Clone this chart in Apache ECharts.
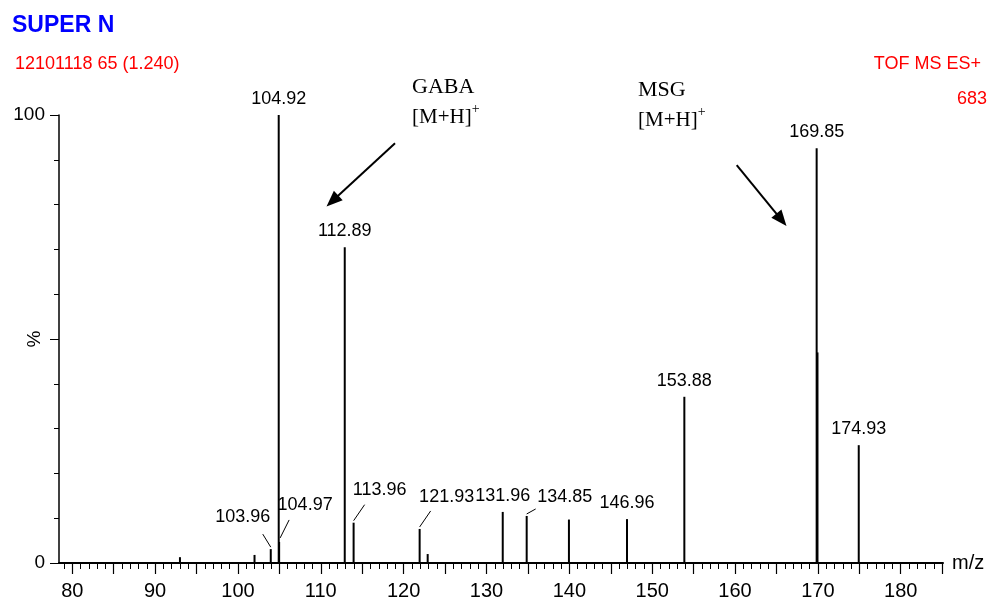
<!DOCTYPE html>
<html>
<head>
<meta charset="utf-8">
<script src="https://cdn.jsdelivr.net/npm/echarts@6/dist/echarts.min.js"></script>
<style>html,body{margin:0;padding:0;background:#fff;}#chart{width:1000px;height:609px;}</style>
</head>
<body>
<div id="chart"></div>
<script>
// ---- data ----
const mzValues    = [93.0, 102.0, 103.96, 104.92, 104.97, 112.89, 113.96, 121.93, 122.9, 131.96, 134.85, 139.95, 146.96, 153.88, 169.85, 169.95, 174.93];
const intensities = [1.3,  1.8,   3.1,    100,    4.7,    70.5,   9.0,    7.6,    2.0,   11.4,   10.5,   9.7,    9.8,    37.1,   92.6,   47.0,   26.3];
const peakLabels  = ['', '', '103.96', '104.92', '104.97', '112.89', '113.96', '121.93', '', '131.96', '134.85', '', '146.96', '153.88', '169.85', '', '174.93'];
const xTickLabels = [80, 90, 100, 110, 120, 130, 140, 150, 160, 170, 180];
const yTickLabels = [0, 100];
const yMajorTicks = [0, 50, 100];
const yMinorTicks = [0, 10, 20, 30, 40, 50, 60, 70, 80, 90, 100];
const xMajorTicks = []; for (let v = 80; v <= 185; v += 5) xMajorTicks.push(v);
const xMinorTicks = []; for (let v = 79; v <= 185; v += 1) xMinorTicks.push(v);
// arrows (data coordinates): [start, end]
const gabaArrow = [[118.96, 93.7], [111.4, 80.8]];
const msgArrow  = [[160.2, 88.8], [165.6, 76.6]];

// ---- styles: label offsets (px) and leader line offsets (px, from peak top) ----
const labelOffsets = {'103.96': [-28, -16], '104.97': [26, -21], '113.96': [26, -17], '121.93': [27, -16], '134.85': [38, -3]};
const leaderOffsets = {'103.96': [[0, -2], [-8, -15]], '104.97': [[1, -4], [10, -22]], '113.96': [[0, -2], [11, -18]], '121.93': [[0, -2], [11, -18]], '134.85': [[0, -2], [9, -7]]};
const FONT = '"Liberation Sans", Arial, sans-serif';
const SERIF = '"Liberation Serif", "DejaVu Serif", serif';

const chart = echarts.init(document.getElementById('chart'), null, {renderer: 'canvas'});

const seriesData = mzValues.map((x, i) => ({
  value: [x, intensities[i]],
  name: peakLabels[i],
  label: {show: peakLabels[i] !== ''}
}));

const xMin = 78.4, xMax = 185.1;
const axisText = {fontFamily: FONT, fontSize: 20, color: '#000'};

const richPlus = {
  b: {fontFamily: SERIF, fontSize: 21, lineHeight: 30, fill: '#000'},
  s: {fontFamily: SERIF, fontSize: 14, verticalAlign: 'top', lineHeight: 30, fill: '#000'}
};
const baseGraphics = [
  {id: 't1', type: 'text', left: 12, top: 14, style: {text: 'SUPER N', fontFamily: FONT, fontSize: 23, fontWeight: 'bold', fill: '#0000ff'}},
  {id: 't2', type: 'text', left: 15, top: 55, style: {text: '12101118 65 (1.240)', fontFamily: FONT, fontSize: 18, fill: '#ff0000'}},
  {id: 't3', type: 'text', right: 19, top: 55, style: {text: 'TOF MS ES+', fontFamily: FONT, fontSize: 18, fill: '#ff0000'}},
  {id: 't4', type: 'text', right: 13, top: 90, style: {text: '683', fontFamily: FONT, fontSize: 18, fill: '#ff0000'}},
  {id: 't5', type: 'text', left: 412, top: 72, style: {text: 'GABA\n{b|[M+H]}{s|+}', fontFamily: SERIF, fontSize: 22, fill: '#000', lineHeight: 30, rich: richPlus}},
  {id: 't6', type: 'text', left: 638, top: 75, style: {text: 'MSG\n{b|[M+H]}{s|+}', fontFamily: SERIF, fontSize: 22, fill: '#000', lineHeight: 30, rich: richPlus}}
];

chart.setOption({
  animation: false,
  backgroundColor: '#fff',
  grid: {left: 59, top: 115, width: 884, height: 448, containLabel: false, outerBoundsMode: 'none'},
  xAxis: [
    {
      type: 'value', min: xMin, max: xMax, position: 'bottom',
      axisLine: {show: true, onZero: false, lineStyle: {color: '#000', width: 2}},
      axisTick: {show: true, customValues: xMajorTicks, length: 11, inside: false, lineStyle: {color: '#000', width: 1.2}},
      axisLabel: Object.assign({customValues: xTickLabels, margin: 18}, axisText),
      splitLine: {show: false},
      name: 'm/z', nameLocation: 'end', nameGap: 9, nameMoveOverlap: false,
      nameTextStyle: Object.assign({verticalAlign: 'middle'}, axisText)
    },
    {
      type: 'value', min: xMin, max: xMax, position: 'bottom',
      axisLine: {show: false, onZero: false},
      axisTick: {show: true, customValues: xMinorTicks, length: 6, inside: false, lineStyle: {color: '#000', width: 1}},
      axisLabel: {show: false},
      splitLine: {show: false}
    }
  ],
  yAxis: [
    {
      type: 'value', min: 0, max: 100, position: 'left',
      axisLine: {show: true, onZero: false, lineStyle: {color: '#000', width: 1.5}},
      axisTick: {show: true, customValues: yMajorTicks, length: 9, lineStyle: {color: '#000', width: 1}},
      axisLabel: Object.assign({}, axisText, {customValues: yTickLabels, margin: 14, fontSize: 19}),
      splitLine: {show: false},
      name: '%', nameLocation: 'middle', nameRotate: 90, nameGap: 15, nameMoveOverlap: false,
      nameTextStyle: Object.assign({}, axisText, {fontSize: 19})
    },
    {
      type: 'value', min: 0, max: 100, position: 'left',
      axisLine: {show: false, onZero: false},
      axisTick: {show: true, customValues: yMinorTicks, length: 5, lineStyle: {color: '#000', width: 1}},
      axisLabel: {show: false},
      splitLine: {show: false}
    }
  ],
  series: [
    {
      type: 'bar',
      xAxisIndex: 0, yAxisIndex: 0,
      barWidth: 2,
      itemStyle: {color: '#000'},
      data: seriesData,
      label: {
        position: 'top', distance: 7,
        formatter: p => p.name,
        fontFamily: FONT, fontSize: 18, color: '#000'
      },
      labelLayout: function (params) {
        const o = labelOffsets[peakLabels[params.dataIndex]];
        return o ? {dx: o[0], dy: o[1]} : {};
      },
      markLine: {
        silent: true,
        symbol: ['none', 'triangle'],
        symbolSize: [13, 16],
        label: {show: false},
        lineStyle: {color: '#000', width: 2, type: 'solid'},
        data: [
          [{coord: gabaArrow[0]}, {coord: gabaArrow[1]}],
          [{coord: msgArrow[0]}, {coord: msgArrow[1]}]
        ]
      }
    }
  ],
  graphic: baseGraphics
});

// leader lines from each labelled small peak top (via the chart's own scales)
const leaders = [];
mzValues.forEach((x, i) => {
  const lo = leaderOffsets[peakLabels[i]];
  if (!lo) return;
  const p = chart.convertToPixel({xAxisIndex: 0, yAxisIndex: 0}, [x, intensities[i]]);
  leaders.push({
    id: 'lead' + i, type: 'line', z: 10,
    shape: {x1: p[0] + lo[0][0], y1: p[1] + lo[0][1], x2: p[0] + lo[1][0], y2: p[1] + lo[1][1]},
    style: {stroke: '#000', lineWidth: 1}
  });
});
chart.setOption({graphic: baseGraphics.concat(leaders)});
</script>
</body>
</html>
